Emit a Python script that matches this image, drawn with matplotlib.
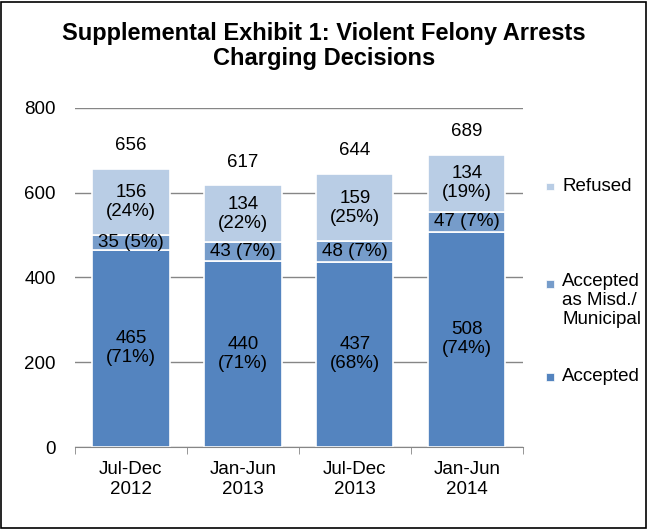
import matplotlib.pyplot as plt
import numpy as np

plt.rcParams['font.family'] = ['Liberation Sans', 'DejaVu Sans']

periods = ['Jul-Dec\n2012', 'Jan-Jun\n2013', 'Jul-Dec\n2013', 'Jan-Jun\n2014']
accepted = [465, 440, 437, 508]
misd = [35, 43, 48, 47]
refused = [156, 134, 159, 134]
accepted_pct = [71, 71, 68, 74]
misd_pct = [5, 7, 7, 7]
refused_pct = [24, 22, 25, 19]
totals = [656, 617, 644, 689]
legend_labels = ['Refused', 'Accepted\nas Misd./\nMunicipal', 'Accepted']

c_acc = '#5484BF'
c_misd = '#769CCA'
c_ref = '#B9CDE5'
c_axis = '#868686'

fig = plt.figure(figsize=(6.48, 5.29), dpi=100)
ax = fig.add_axes([0.1157, 0.155, 0.691, 0.641])

x = np.arange(len(periods))
w = 0.69
acc = np.array(accepted)
mid = np.array(misd)
ref = np.array(refused)

ax.bar(x, acc, w, color=c_acc, edgecolor='white', linewidth=1.2, zorder=3)
ax.bar(x, mid, w, bottom=acc, color=c_misd, edgecolor='white', linewidth=1.2, zorder=3)
ax.bar(x, ref, w, bottom=acc + mid, color=c_ref, edgecolor='white', linewidth=1.2, zorder=3)

fs = 13.5
for i in range(len(periods)):
    ax.text(x[i], acc[i] / 2, f'{accepted[i]}\n({accepted_pct[i]}%)', ha='center', va='center',
            fontsize=fs, linespacing=1.15, zorder=4)
    ax.text(x[i], acc[i] + mid[i] / 2, f'{misd[i]} ({misd_pct[i]}%)', ha='center', va='center',
            fontsize=fs, zorder=4)
    ax.text(x[i], acc[i] + mid[i] + ref[i] / 2, f'{refused[i]}\n({refused_pct[i]}%)', ha='center',
            va='center', fontsize=fs, linespacing=1.15, zorder=4)
    ax.text(x[i], totals[i] + 55, str(totals[i]), ha='center', va='center', fontsize=fs, zorder=4)

ax.set_xlim(-0.5, 3.5)
ax.set_ylim(0, 800)
ax.set_yticks([0, 200, 400, 600, 800])
ax.yaxis.grid(True, color=c_axis, linewidth=1.0, zorder=0)
ax.set_axisbelow(True)
for s in ['top', 'right', 'left']:
    ax.spines[s].set_visible(False)
ax.spines['bottom'].set_color(c_axis)
ax.spines['bottom'].set_zorder(4)
ax.tick_params(axis='y', length=0, labelsize=fs, pad=14)
ax.set_xticks(x)
ax.set_xticklabels(periods, linespacing=1.25, fontsize=fs)
ax.set_xticks([-0.5, 0.5, 1.5, 2.5, 3.5], minor=True)
ax.tick_params(axis='x', which='major', length=0, pad=10)
ax.tick_params(axis='x', which='minor', length=5, color=c_axis)

# legend drawn by hand on the right
colors = [c_ref, c_misd, c_acc]
ys = [0.648, 0.463, 0.288]
for lab, col, yy in zip(legend_labels, colors, ys):
    fig.patches.append(plt.Rectangle((0.843, yy - 0.008), 0.012, 0.015, transform=fig.transFigure,
                                     facecolor=col, edgecolor='white', linewidth=0.5, figure=fig))
    if '\n' in lab:
        fig.text(0.868, yy + 0.021, lab, ha='left', va='top', fontsize=fs, linespacing=1.15)
    else:
        fig.text(0.868, yy, lab, ha='left', va='center', fontsize=fs)

fig.text(0.5, 0.913, 'Supplemental Exhibit 1: Violent Felony Arrests\nCharging Decisions',
         ha='center', va='center', fontsize=17, fontweight='bold', linespacing=1.15)

fig.patches.append(plt.Rectangle((0.002, 0.002), 0.995, 0.995, transform=fig.transFigure,
                                 fill=False, edgecolor='black', linewidth=1.2, figure=fig))

fig.savefig('out.png', dpi=100)
